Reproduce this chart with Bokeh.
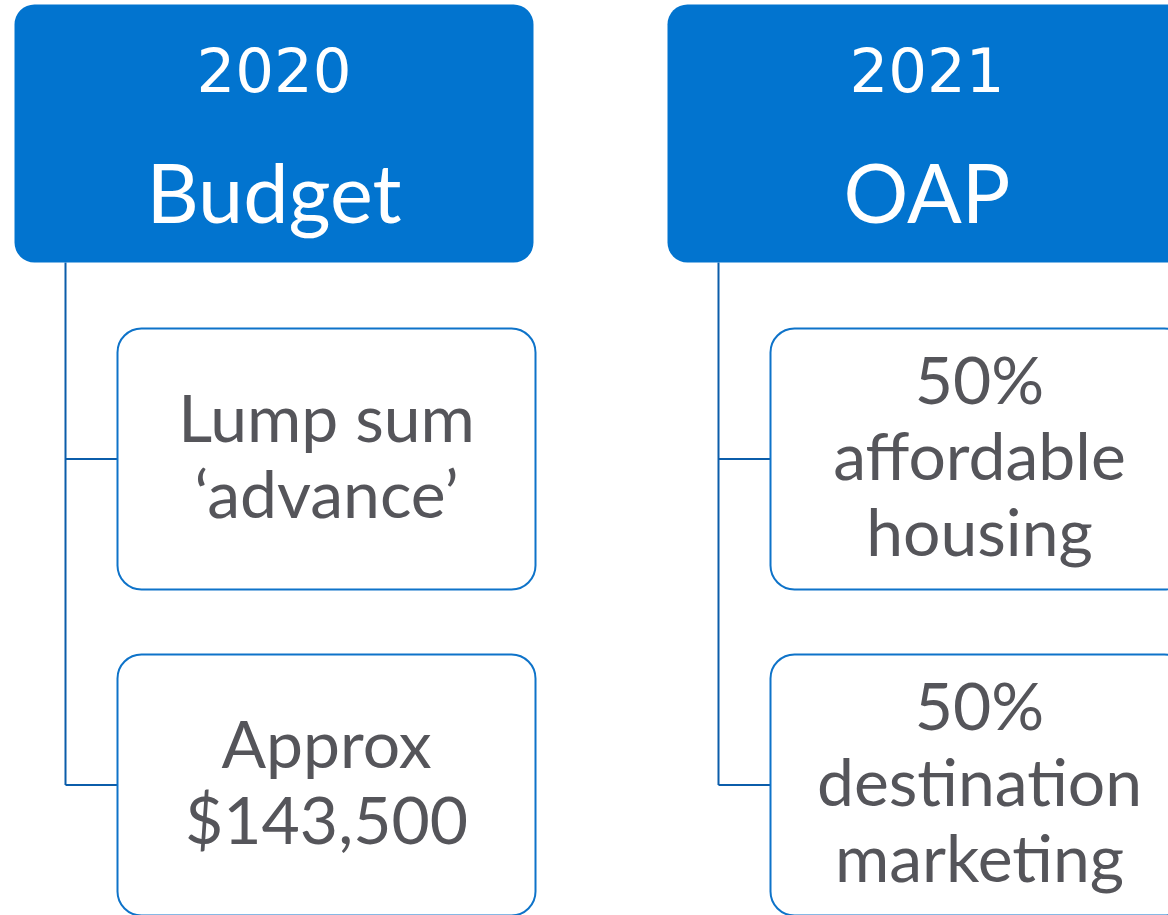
from bokeh.plotting import figure
from bokeh.models import Range1d
from bokeh.core.properties import value
from bokeh.embed import file_html
from bokeh.resources import INLINE

# ---- content ----
years = ["2020", "2021"]
titles = ["Budget", "OAP"]
child_texts = [
    [["Lump sum", "\u2018advance\u2019"], ["Approx", "$143,500"]],
    [["50%", "affordable", "housing"], ["50%", "destination", "marketing"]],
]

# ---- layout (page pixels) ----
W, H = 1168, 915
col_left = [14, 667]
head_w, head_top, head_bottom = 519, 4, 262
child_dx, child_w = 103, 418
child_tops = [328, 654]
child_h = 261
spine_dx = 51
line_gap = 76

YEAR_FS, TITLE_FS, CHILD_FS = 61, 81, 66
BASE_SHIFT = 0.385  # Bokeh places "alphabetic" baseline lower by this fraction of font size

HEAD_FILL = "#0274CF"
CHILD_LINE = "#0E73C9"
CONN_LINE = "#0B5DAA"
TXT = "#55555A"

p = figure(width=W, height=H, x_range=Range1d(0, W), y_range=Range1d(H, 0),
           output_backend="svg", toolbar_location=None, min_border=0)
p.axis.visible = False
p.grid.visible = False
p.outline_line_color = None
p.background_fill_color = "white"
p.border_fill_color = "white"


def base(y, fs):
    return y - BASE_SHIFT * fs


for ci, x0 in enumerate(col_left):
    # connectors
    sx = x0 + spine_dx
    cx_left = x0 + child_dx
    centers = [t + child_h / 2 for t in child_tops]
    p.line([sx, sx], [head_bottom, centers[-1]], line_color=CONN_LINE, line_width=2)
    for c in centers:
        p.line([sx, cx_left], [c, c], line_color=CONN_LINE, line_width=2)

    # header
    p.quad(left=[x0], right=[x0 + head_w], top=[head_top], bottom=[head_bottom],
           fill_color=HEAD_FILL, line_color=None, border_radius=20)
    hx = x0 + head_w / 2
    p.text(x=[hx], y=[base(92, YEAR_FS)], text=[years[ci]], text_color="white",
           text_font=value("DejaVu Sans"), text_font_size=f"{YEAR_FS}px",
           text_align="center", text_baseline="alphabetic")
    p.text(x=[hx], y=[base(222, TITLE_FS)], text=[titles[ci]], text_color="white",
           text_font=value("Lato"), text_font_size=f"{TITLE_FS}px",
           text_align="center", text_baseline="alphabetic")

    # children
    for k, top in enumerate(child_tops):
        p.quad(left=[cx_left], right=[cx_left + child_w], top=[top], bottom=[top + child_h],
               fill_color="white", line_color=CHILD_LINE, line_width=2, border_radius=24)
        lines = child_texts[ci][k]
        n = len(lines)
        c = top + child_h / 2
        ys = [base(c + 21 + (i - (n - 1) / 2) * line_gap, CHILD_FS) for i in range(n)]
        p.text(x=[cx_left + child_w / 2] * n, y=ys, text=lines, text_color=TXT,
               text_font=value("Lato"), text_font_size=f"{CHILD_FS}px",
               text_align="center", text_baseline="alphabetic")

open("out.html", "w").write(file_html(p, INLINE))
